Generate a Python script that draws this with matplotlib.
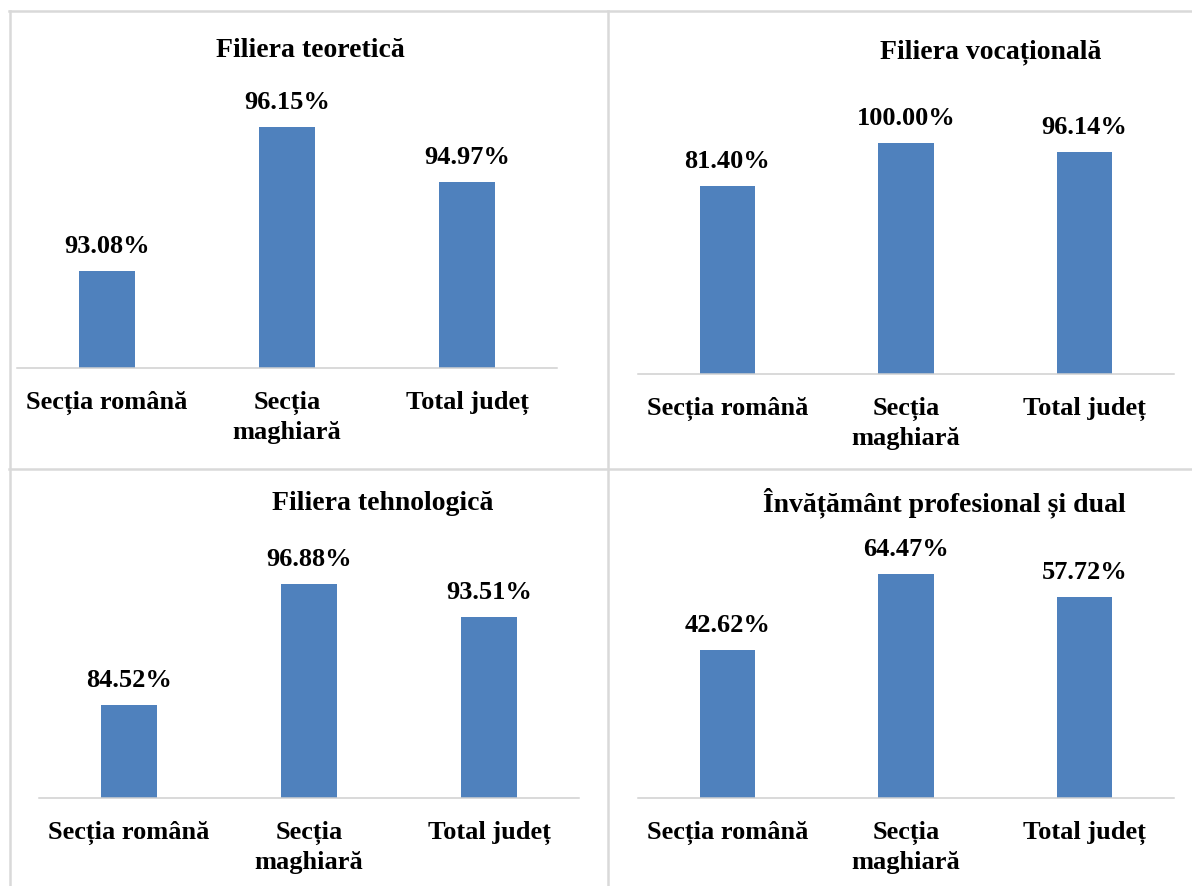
import matplotlib
matplotlib.use("Agg")
import matplotlib.pyplot as plt
from matplotlib.lines import Line2D

plt.rcParams["font.family"] = ["Liberation Serif", "DejaVu Serif"]
plt.rcParams["font.weight"] = "bold"

# Data
categories = ["Secția română", "Secția\nmaghiară", "Total județ"]
titles = ["Filiera teoretică", "Filiera vocațională",
          "Filiera tehnologică", "Învățământ profesional și dual"]
teoretica = [93.08, 96.15, 94.97]
vocationala = [81.40, 100.00, 96.14]
tehnologica = [84.52, 96.88, 93.51]
profesional = [42.62, 64.47, 57.72]
series = [teoretica, vocationala, tehnologica, profesional]
y_limits = [(91, 97), (0, 120), (75, 100), (0, 80)]

W, H = 1192, 886
fig = plt.figure(figsize=(W / 100, H / 100), dpi=100)

# panel layout in pixels: axis left, axis right, baseline y, top y
panels = [(17, 557, 368, 87), (638, 1174, 374, 97),
          (39, 579, 798, 554), (638, 1174, 798, 520)]
# title centre x and baseline y, in pixels
title_pos = [(310, 57), (991, 58), (383, 510), (944, 511)]

bar_color = "#4F81BD"
grid_color = "#D9D9D9"
fs = 19

for i in range(4):
    x0, x1, yb, yt = panels[i]
    ax = fig.add_axes([x0 / W, 1 - yb / H, (x1 - x0) / W, (yb - yt) / H])
    vals = series[i]
    x = range(len(vals))
    ax.bar(x, vals, width=0.31, color=bar_color)
    ax.set_xlim(-0.5, 2.5)
    ax.set_ylim(*y_limits[i])
    for xi, v in zip(x, vals):
        ax.annotate(f"{v:.2f}%", (xi, v), xytext=(0, 18), textcoords="offset pixels",
                    ha="center", va="baseline", fontsize=fs, fontweight="bold")
    ax.set_xticks(list(x))
    ax.set_xticklabels(categories, fontsize=fs, fontweight="bold", linespacing=1.35)
    ax.tick_params(axis="x", length=0, pad=16.5)
    ax.set_yticks([])
    for s in ["top", "left", "right"]:
        ax.spines[s].set_visible(False)
    ax.spines["bottom"].set_color("#D0D0D0")
    ax.spines["bottom"].set_linewidth(1.1)
    ax.patch.set_alpha(0)

    tx, ty = title_pos[i]
    fig.text(tx / W, 1 - ty / H, titles[i], ha="center", va="baseline",
             fontsize=fs + 1, fontweight="bold")

# table borders
def hline(y, xa, xb):
    fig.add_artist(Line2D([xa / W, xb / W], [1 - y / H, 1 - y / H],
                          transform=fig.transFigure, color=grid_color, linewidth=1.8))

def vline(x, ya, yb):
    fig.add_artist(Line2D([x / W, x / W], [1 - ya / H, 1 - yb / H],
                          transform=fig.transFigure, color=grid_color, linewidth=1.8))

hline(11, 9, W)
hline(469, 9, W)
vline(9.5, 11, H)
vline(608, 11, H)

fig.savefig("out.png", dpi=100)
